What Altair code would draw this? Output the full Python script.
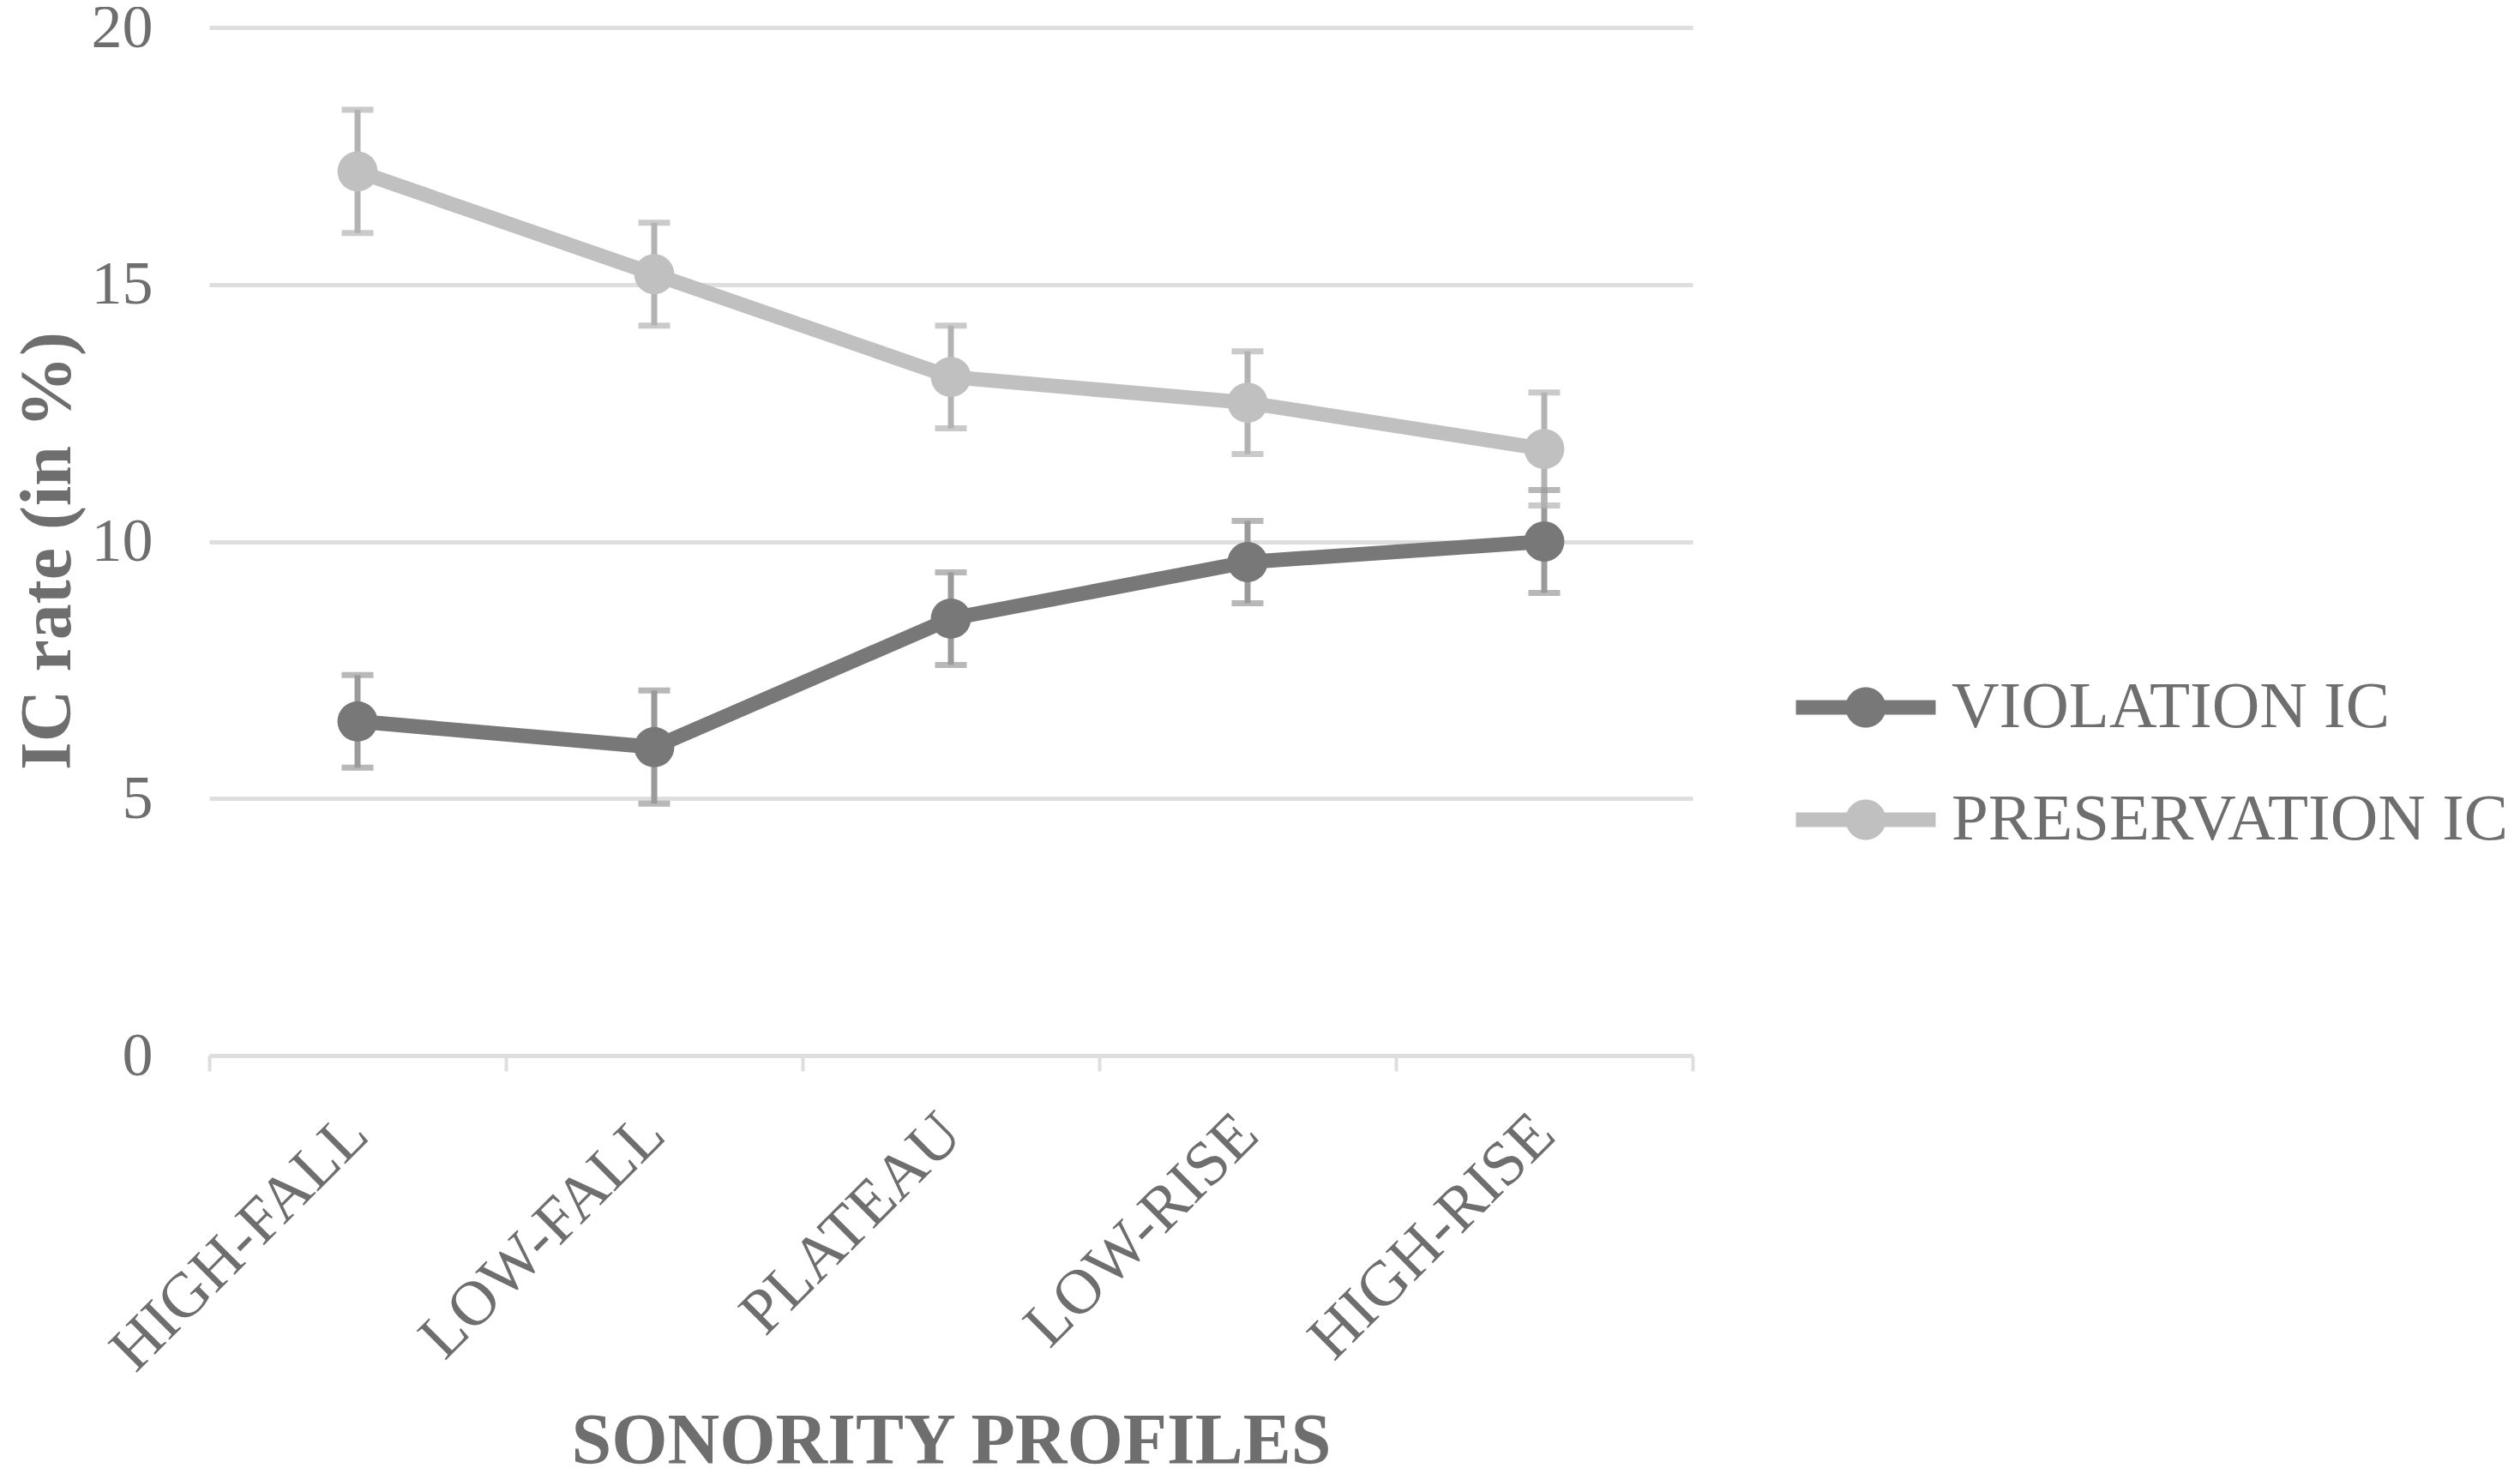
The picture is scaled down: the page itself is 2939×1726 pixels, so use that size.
import altair as alt
import pandas as pd

categories = ["HIGH-FALL", "LOW-FALL", "PLATEAU", "LOW-RISE", "HIGH-RISE"]
series_names = ["VIOLATION IC", "PRESERVATION IC"]
violation = [6.5, 6.0, 8.5, 9.6, 10.0]
violation_err = [0.9, 1.1, 0.9, 0.8, 1.0]
preservation = [17.2, 15.2, 13.2, 12.7, 11.8]
preservation_err = [1.2, 1.0, 1.0, 1.0, 1.1]
y_ticks = [0, 5, 10, 15, 20]

rows = []
for i, c in enumerate(categories):
    rows.append({"cat": c, "series": series_names[0], "v": violation[i],
                 "lo": violation[i] - violation_err[i], "hi": violation[i] + violation_err[i], "order": 0})
for i, c in enumerate(categories):
    rows.append({"cat": c, "series": series_names[1], "v": preservation[i],
                 "lo": preservation[i] - preservation_err[i], "hi": preservation[i] + preservation_err[i], "order": 1})
df = pd.DataFrame(rows)

FONT = "Liberation Serif"
TXT = "#6e6e6e"
GRID = "#dedede"

line_colors = alt.Scale(domain=series_names, range=["#787878", "#c0c0c0"])
err_colors = alt.Scale(domain=series_names, range=["#9a9a9a", "#b3b3b3"])

x_enc = alt.X("cat:N", sort=categories,
              scale=alt.Scale(type="band", paddingInner=0, paddingOuter=0),
              bandPosition=0.5,
              axis=alt.Axis(title="SONORITY PROFILES", labelAngle=-45, labelAlign="right",
                            labelBaseline="middle", labelPadding=62, labelFontSize=74,
                            labelFont=FONT, labelColor=TXT, labelLimit=2000, tickBand="extent",
                            ticks=True, tickSize=18, tickWidth=4, tickColor=GRID,
                            domain=True, domainColor=GRID, domainWidth=5, grid=False,
                            titleFont=FONT, titleFontSize=84, titleFontWeight="bold",
                            titleColor=TXT, titleX=865, titleY=450, titleAlign="center",
                            titleBaseline="middle"))
y_scale = alt.Scale(domain=[0, 20], nice=False, zero=True)
y_axis = alt.Axis(title="IC rate (in %)", values=y_ticks, format="d", grid=True, gridColor=GRID,
                  gridWidth=5, domain=False, ticks=False, labelFont=FONT, labelFontSize=72,
                  labelColor=TXT, labelPadding=66, titleFont=FONT, titleFontSize=84,
                  titleFontWeight="bold", titleColor=TXT, titleAngle=270, titleX=-188,
                  titleY=610, titleAlign="center", titleBaseline="middle")

base = alt.Chart(df)

err_rule = base.mark_rule(strokeWidth=7).encode(
    x=x_enc,
    y=alt.Y("lo:Q", scale=y_scale, axis=y_axis),
    y2="hi:Q",
    color=alt.Color("series:N", scale=err_colors, legend=None),
    detail="series:N",
)
err_lo = base.mark_tick(thickness=7, size=37, orient="horizontal").encode(
    x=x_enc, y=alt.Y("lo:Q", scale=y_scale),
    color=alt.Color("series:N", scale=err_colors, legend=None),
)
err_hi = base.mark_tick(thickness=7, size=37, orient="horizontal").encode(
    x=x_enc, y=alt.Y("hi:Q", scale=y_scale),
    color=alt.Color("series:N", scale=err_colors, legend=None),
)

legend_path = ("M-1.734,-0.18H1.734V0.18H-1.734Z "
               "M0.5,0A0.5,0.5 0 1,1 -0.5,0A0.5,0.5 0 1,1 0.5,0Z")

lines = base.mark_line(strokeWidth=17).encode(
    x=x_enc, y=alt.Y("v:Q", scale=y_scale),
    color=alt.Color("series:N", scale=line_colors, legend=None),
    order="order:Q",
)
points = base.mark_point(filled=True, size=2200, opacity=1).encode(
    x=x_enc, y=alt.Y("v:Q", scale=y_scale),
    color=alt.Color("series:N", scale=line_colors,
                    legend=alt.Legend(title=None, orient="none", legendX=1885, legendY=746,
                                      symbolType=legend_path, symbolSize=8836,
                                      symbolStrokeWidth=0, rowPadding=46, padding=0,
                                      labelFont=FONT, labelFontSize=77, labelColor=TXT,
                                      labelOffset=53, labelLimit=1000)),
)

chart = alt.layer(err_rule, err_lo, err_hi, lines, points).resolve_scale(color="independent").properties(
    width=1730, height=1199,
    background="white",
    autosize=alt.AutoSizeParams(type="none"),
    padding={"left": 236, "top": 24, "right": 957, "bottom": 485},
).configure_view(strokeWidth=0, stroke="transparent")

chart.save("out.html", embed_options={"renderer": "svg", "actions": False})
